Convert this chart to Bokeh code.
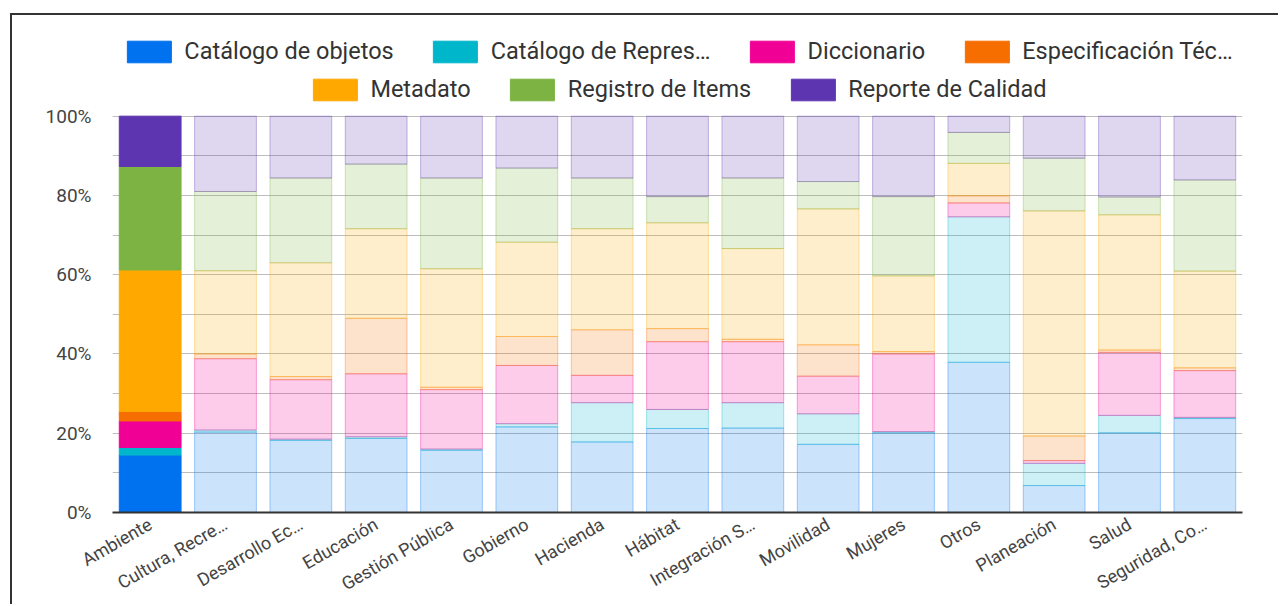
import math
from bokeh.plotting import figure
from bokeh.models import (ColumnDataSource, FactorRange, Range1d, FixedTicker,
                          PrintfTickFormatter, Legend, LegendItem)
from bokeh.embed import file_html
from bokeh.resources import INLINE

categories = ["Ambiente", "Cultura, Recre…", "Desarrollo Ec…", "Educación",
              "Gestión Pública", "Gobierno", "Hacienda", "Hábitat",
              "Integración S…", "Movilidad", "Mujeres", "Otros", "Planeación",
              "Salud", "Seguridad, Co…"]

series_names = ["Catálogo de objetos", "Catálogo de Repres…", "Diccionario",
                "Especificación Téc…", "Metadato", "Registro de Items",
                "Reporte de Calidad"]

catalogo_objetos = [14.5, 20.3, 18.2, 18.7, 15.7, 21.6, 17.8, 21.2, 21.3, 17.2, 20.1, 37.9, 6.8, 20.1, 23.7]
catalogo_repres  = [1.9, 0.5, 0.3, 0.4, 0.3, 0.8, 9.9, 4.8, 6.4, 7.7, 0.3, 36.7, 5.6, 4.4, 0.3]
diccionario      = [6.7, 18.0, 15.0, 15.9, 15.0, 14.7, 6.9, 17.1, 15.4, 9.5, 19.6, 3.5, 0.7, 15.9, 11.8]
especificacion   = [2.4, 1.2, 0.8, 14.0, 0.6, 7.3, 11.5, 3.3, 0.6, 7.9, 0.6, 1.8, 6.2, 0.6, 0.7]
metadato         = [35.7, 21.0, 28.7, 22.6, 29.9, 23.8, 25.5, 26.7, 22.9, 34.3, 19.1, 8.2, 56.8, 34.1, 24.4]
registro_items   = [26.1, 20.0, 21.4, 16.3, 22.9, 18.7, 12.8, 6.6, 17.8, 6.9, 20.0, 7.8, 13.3, 4.5, 23.0]
reporte_calidad  = [12.7, 19.0, 15.6, 12.1, 15.6, 13.1, 15.6, 20.3, 15.6, 16.5, 20.3, 4.1, 10.6, 20.4, 16.1]

colors = ["#0072F0", "#00B6CB", "#F10096", "#F66D00", "#FFA800", "#7CB342", "#5E35B1"]

highlight = [1.0] + [0.2] * (len(categories) - 1)
line_alpha = [1.0] + [0.35] * (len(categories) - 1)

keys = ["s0", "s1", "s2", "s3", "s4", "s5", "s6"]
data = dict(cat=categories, alpha=highlight, lalpha=line_alpha)
for k, vals in zip(keys, [catalogo_objetos, catalogo_repres, diccionario, especificacion,
                          metadato, registro_items, reporte_calidad]):
    data[k] = vals
src = ColumnDataSource(data)

FONT = "Roboto"

# headroom above 100% holds the legend rows
p = figure(x_range=FactorRange(*categories, range_padding=0), y_range=Range1d(0, 125.4),
           width=1268, height=591, output_backend="svg", toolbar_location=None,
           min_border_left=100, min_border_right=38, min_border_top=0, min_border_bottom=92)
p.title = None
p.margin = (13, 0, 0, 10)
p.styles = {"border-left": "2px solid #333333", "border-top": "2px solid #333333"}
p.outline_line_color = None
p.background_fill_color = "white"
p.border_fill_color = "white"

renderers = p.vbar_stack(keys, x="cat", width=0.82, color=colors, source=src,
                         fill_alpha="alpha", line_alpha="lalpha", line_width=1)

p.xgrid.grid_line_color = None
p.ygrid.ticker = FixedTicker(ticks=list(range(0, 101, 10)))
p.ygrid.grid_line_color = "#bdbdbd"
p.ygrid.grid_line_width = 1

p.yaxis.ticker = FixedTicker(ticks=[0, 20, 40, 60, 80, 100])
p.yaxis.formatter = PrintfTickFormatter(format="%d%%")
p.yaxis.axis_line_color = None
p.yaxis.major_tick_line_color = None
p.yaxis.minor_tick_line_color = None
p.yaxis.major_label_standoff = 15
p.yaxis.major_label_text_font = FONT
p.yaxis.major_label_text_font_size = "19px"
p.yaxis.major_label_text_color = "#444444"

p.xaxis.axis_line_color = "#333333"
p.xaxis.axis_line_width = 2
p.xaxis.major_tick_line_color = None
p.xaxis.minor_tick_line_color = None
p.xaxis.major_label_orientation = math.pi / 6
p.xaxis.major_label_standoff = 4
p.xaxis.major_label_text_font = FONT
p.xaxis.major_label_text_font_size = "18px"
p.xaxis.major_label_text_color = "#444444"

items1 = [LegendItem(label=series_names[i], renderers=[renderers[i]], index=0) for i in range(4)]
items2 = [LegendItem(label=series_names[i], renderers=[renderers[i]], index=0) for i in range(4, 7)]

def make_legend(items, margin):
    return Legend(items=items, orientation="horizontal", location="top",
                  glyph_width=55, glyph_height=27, label_standoff=8, spacing=34,
                  padding=0, margin=margin, border_line_color=None,
                  background_fill_alpha=0, label_text_font=FONT,
                  label_text_font_size="23.5px", label_text_color="#333333")

leg1 = make_legend(items1, 22)
leg2 = make_legend(items2, 60)
p.add_layout(leg1, "center")
p.add_layout(leg2, "center")

open("out.html", "w").write(file_html(p, INLINE))
